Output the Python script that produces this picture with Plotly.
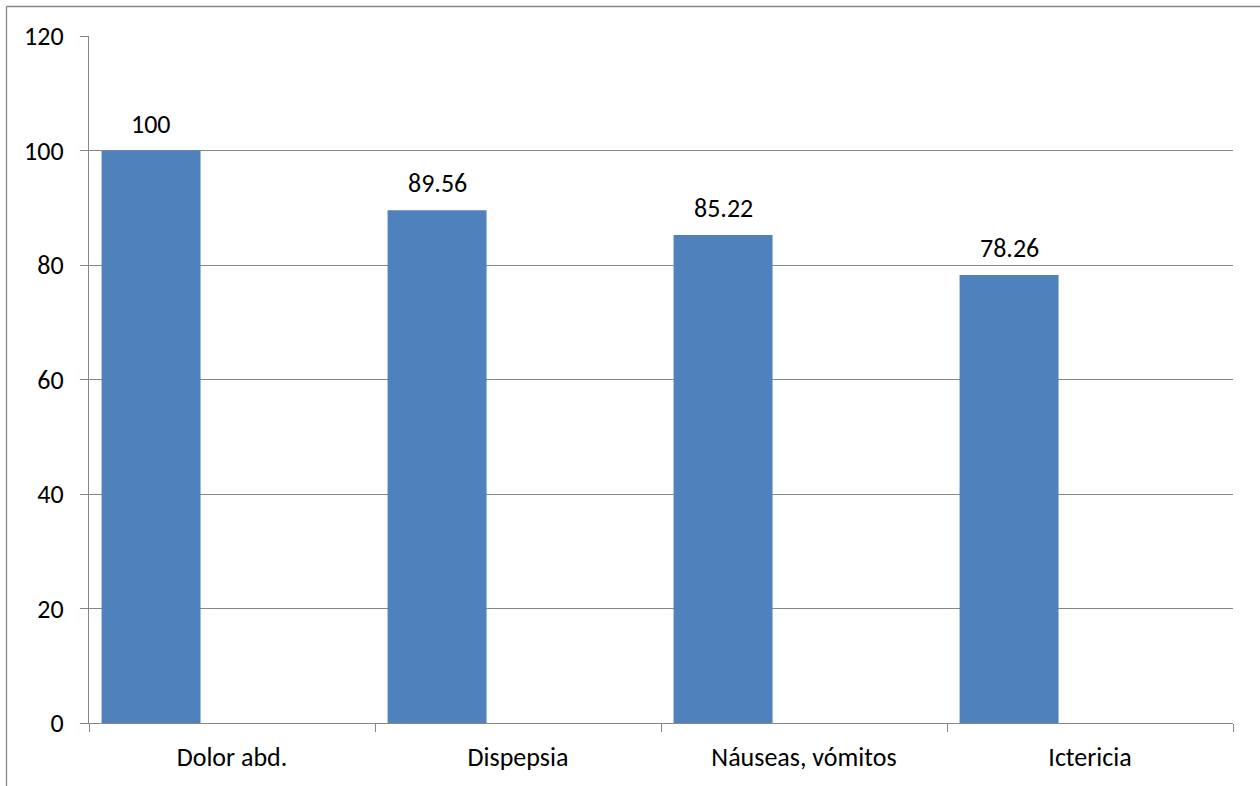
import plotly.graph_objects as go

# Symptom frequencies (%)
categories = ["Dolor abd.", "Dispepsia", "Náuseas, vómitos", "Ictericia"]
values = [100, 89.56, 85.22, 78.26]
value_labels = ["100", "89.56", "85.22", "78.26"]
y_ticks = [0, 20, 40, 60, 80, 100, 120]

BAR_COLOR = "#4F81BD"
LINE_COLOR = "#868686"
FONT = "Carlito, Calibri, Lato, sans-serif"
FSIZE = 26

# Bars sit in the left part of each category slot
BAR_OFFSET = -0.456
BAR_WIDTH = 0.346

fig = go.Figure()
fig.add_trace(go.Bar(
    x=categories,
    y=values,
    offset=BAR_OFFSET,
    width=BAR_WIDTH,
    marker=dict(color=BAR_COLOR, line=dict(width=0)),
    hoverinfo="x+y",
))

# Value labels above each bar
for i, (v, t) in enumerate(zip(values, value_labels)):
    fig.add_annotation(
        x=i + BAR_OFFSET + BAR_WIDTH / 2, y=v,
        xref="x", yref="y",
        text=t, showarrow=False,
        yanchor="middle", yshift=27,
        font=dict(family=FONT, size=FSIZE, color="#000000"),
    )

ML, MR, MT, MB = 89, 27, 36, 63
W, H = 1260, 786
pw, ph = W - ML - MR, H - MT - MB

# Outer chart frame (left and top edges visible)
fx = (6.5 - ML) / pw
fy = (H - MB - 6.5) / ph
fig.add_shape(type="line", xref="paper", yref="paper",
              x0=fx, x1=fx, y0=-1, y1=fy,
              line=dict(color=LINE_COLOR, width=1.3))
fig.add_shape(type="line", xref="paper", yref="paper",
              x0=fx, x1=2, y0=fy, y1=fy,
              line=dict(color=LINE_COLOR, width=1.3))

fig.update_layout(
    width=W, height=H,
    margin=dict(l=ML, r=MR, t=MT, b=MB, pad=0),
    paper_bgcolor="white",
    plot_bgcolor="white",
    showlegend=False,
    font=dict(family=FONT, size=FSIZE, color="#000000"),
    xaxis=dict(
        type="category",
        tickson="boundaries",
        ticks="outside", ticklen=8, tickwidth=1.3, tickcolor=LINE_COLOR,
        showline=True, linecolor=LINE_COLOR, linewidth=1.3,
        showgrid=False, zeroline=False,
        ticklabelstandoff=11,
        tickfont=dict(family=FONT, size=FSIZE, color="#000000"),
    ),
    yaxis=dict(
        range=[0, 120],
        tickvals=y_ticks,
        ticks="outside", ticklen=8, tickwidth=1.3, tickcolor=LINE_COLOR,
        showline=True, linecolor=LINE_COLOR, linewidth=1.3,
        showgrid=True, gridcolor=LINE_COLOR, gridwidth=1.3,
        zeroline=False,
        ticklabelstandoff=11,
        tickfont=dict(family=FONT, size=FSIZE, color="#000000"),
    ),
)

fig.write_html("out.html")
